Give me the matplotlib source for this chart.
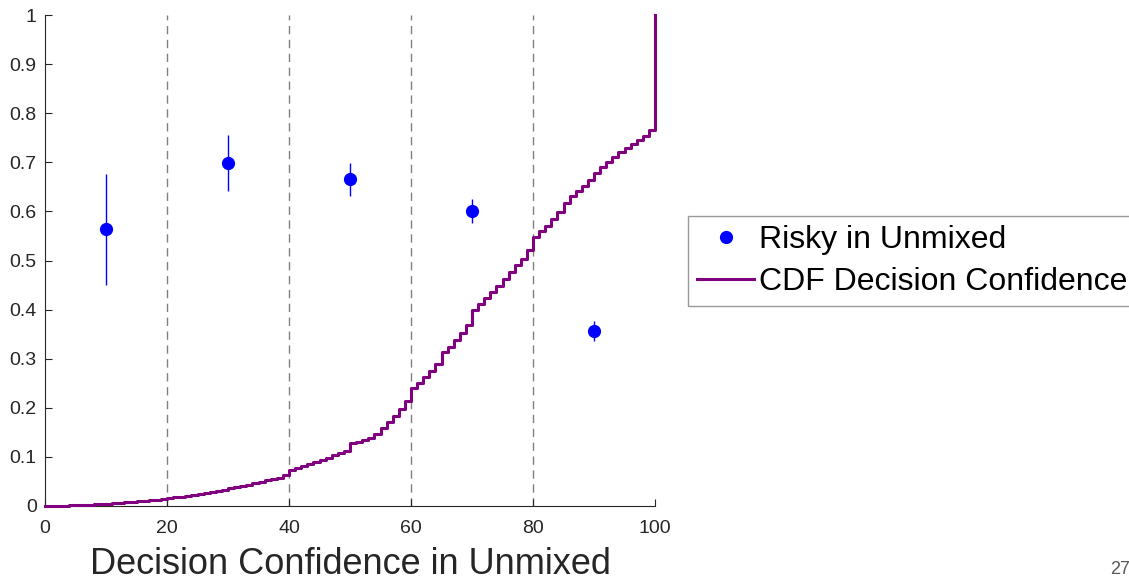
import numpy as np
from matplotlib import pyplot as plt

# Risky choice share by confidence bin (bin centres, mean, half-width of error bar)
bin_centres = [10, 30, 50, 70, 90]
risky_share = [0.564, 0.699, 0.665, 0.601, 0.356]
risky_err = [0.113, 0.057, 0.033, 0.025, 0.020]

# Empirical CDF of decision confidence, one step per integer 0..100
conf_levels = list(range(0, 101))
cdf_values = [
    0.000, 0.0003, 0.0006, 0.001, 0.0015, 0.002, 0.0025, 0.003, 0.0035, 0.004,
    0.005, 0.006, 0.007, 0.008, 0.009, 0.010, 0.011, 0.012, 0.013, 0.014,
    0.017, 0.018, 0.019, 0.021, 0.023, 0.025, 0.027, 0.029, 0.031, 0.033,
    0.037, 0.039, 0.041, 0.043, 0.046, 0.049, 0.052, 0.055, 0.058, 0.064,
    0.074, 0.078, 0.082, 0.086, 0.090, 0.094, 0.098, 0.104, 0.108, 0.111,
    0.128, 0.131, 0.134, 0.139, 0.146, 0.158, 0.172, 0.184, 0.198, 0.214,
    0.240, 0.250, 0.262, 0.274, 0.289, 0.314, 0.324, 0.338, 0.352, 0.368,
    0.400, 0.412, 0.424, 0.436, 0.448, 0.462, 0.476, 0.490, 0.504, 0.521,
    0.548, 0.560, 0.570, 0.584, 0.598, 0.617, 0.631, 0.642, 0.652, 0.664,
    0.678, 0.690, 0.700, 0.710, 0.720, 0.730, 0.738, 0.746, 0.754, 0.766,
    1.000,
]

x_ticks = [0, 20, 40, 60, 80, 100]
y_ticks = [0, 0.1, 0.2, 0.3, 0.4, 0.5, 0.6, 0.7, 0.8, 0.9, 1]
y_tick_labels = ["0", "0.1", "0.2", "0.3", "0.4", "0.5", "0.6", "0.7", "0.8", "0.9", "1"]
bin_edges = [20, 40, 60, 80]

plt.rcParams['font.family'] = ['Liberation Sans', 'DejaVu Sans']

fig = plt.figure(figsize=(11.29, 5.81), dpi=100)
ax = fig.add_axes([45 / 1129, 75 / 581, 610 / 1129, 491 / 581])

# Bin boundaries
for edge in bin_edges:
    ax.axvline(edge, color="#808080", linewidth=1.0, linestyle=(0, (6, 4)), zorder=1)

ax.errorbar(bin_centres, risky_share, yerr=risky_err, fmt='none',
            ecolor="#0000ff", elinewidth=1.0, capsize=0, zorder=3)
ax.plot(bin_centres, risky_share, 'o', color="#0000ff", markersize=8.5,
        label="Risky in Unmixed", zorder=4)
ax.step(conf_levels, cdf_values, where='post', color="#800080", linewidth=2.2,
        label="CDF Decision Confidence", zorder=3, clip_on=False)

ax.set_xlim(0, 100)
ax.set_ylim(0, 1)
ax.set_xticks(x_ticks)
ax.set_yticks(y_ticks)
ax.set_yticklabels(y_tick_labels)
ax.tick_params(direction='in', length=5, width=0.8, colors="#262626",
               labelsize=14, pad=6)
ax.tick_params(axis='x', pad=10)
for side in ("top", "right"):
    ax.spines[side].set_visible(False)
for side in ("left", "bottom"):
    ax.spines[side].set_color("#262626")
    ax.spines[side].set_linewidth(0.8)

ax.set_xlabel("Decision Confidence in Unmixed", fontsize=26, color="#262626", labelpad=7)

leg = fig.legend(loc='upper left', bbox_to_anchor=(688 / 1129, 1 - 216 / 581),
                 fontsize=23, frameon=True, fancybox=False, handlelength=1.8,
                 handletextpad=0.15, borderpad=0.28, labelspacing=0.37,
                 borderaxespad=0)
leg.get_frame().set_edgecolor("#808080")
leg.get_frame().set_linewidth(1.0)

fig.text(1120 / 1129, 1 - 570 / 581, "27", fontsize=13, color="#595959",
         ha='center', va='center')

fig.savefig("out.png", dpi=100)
